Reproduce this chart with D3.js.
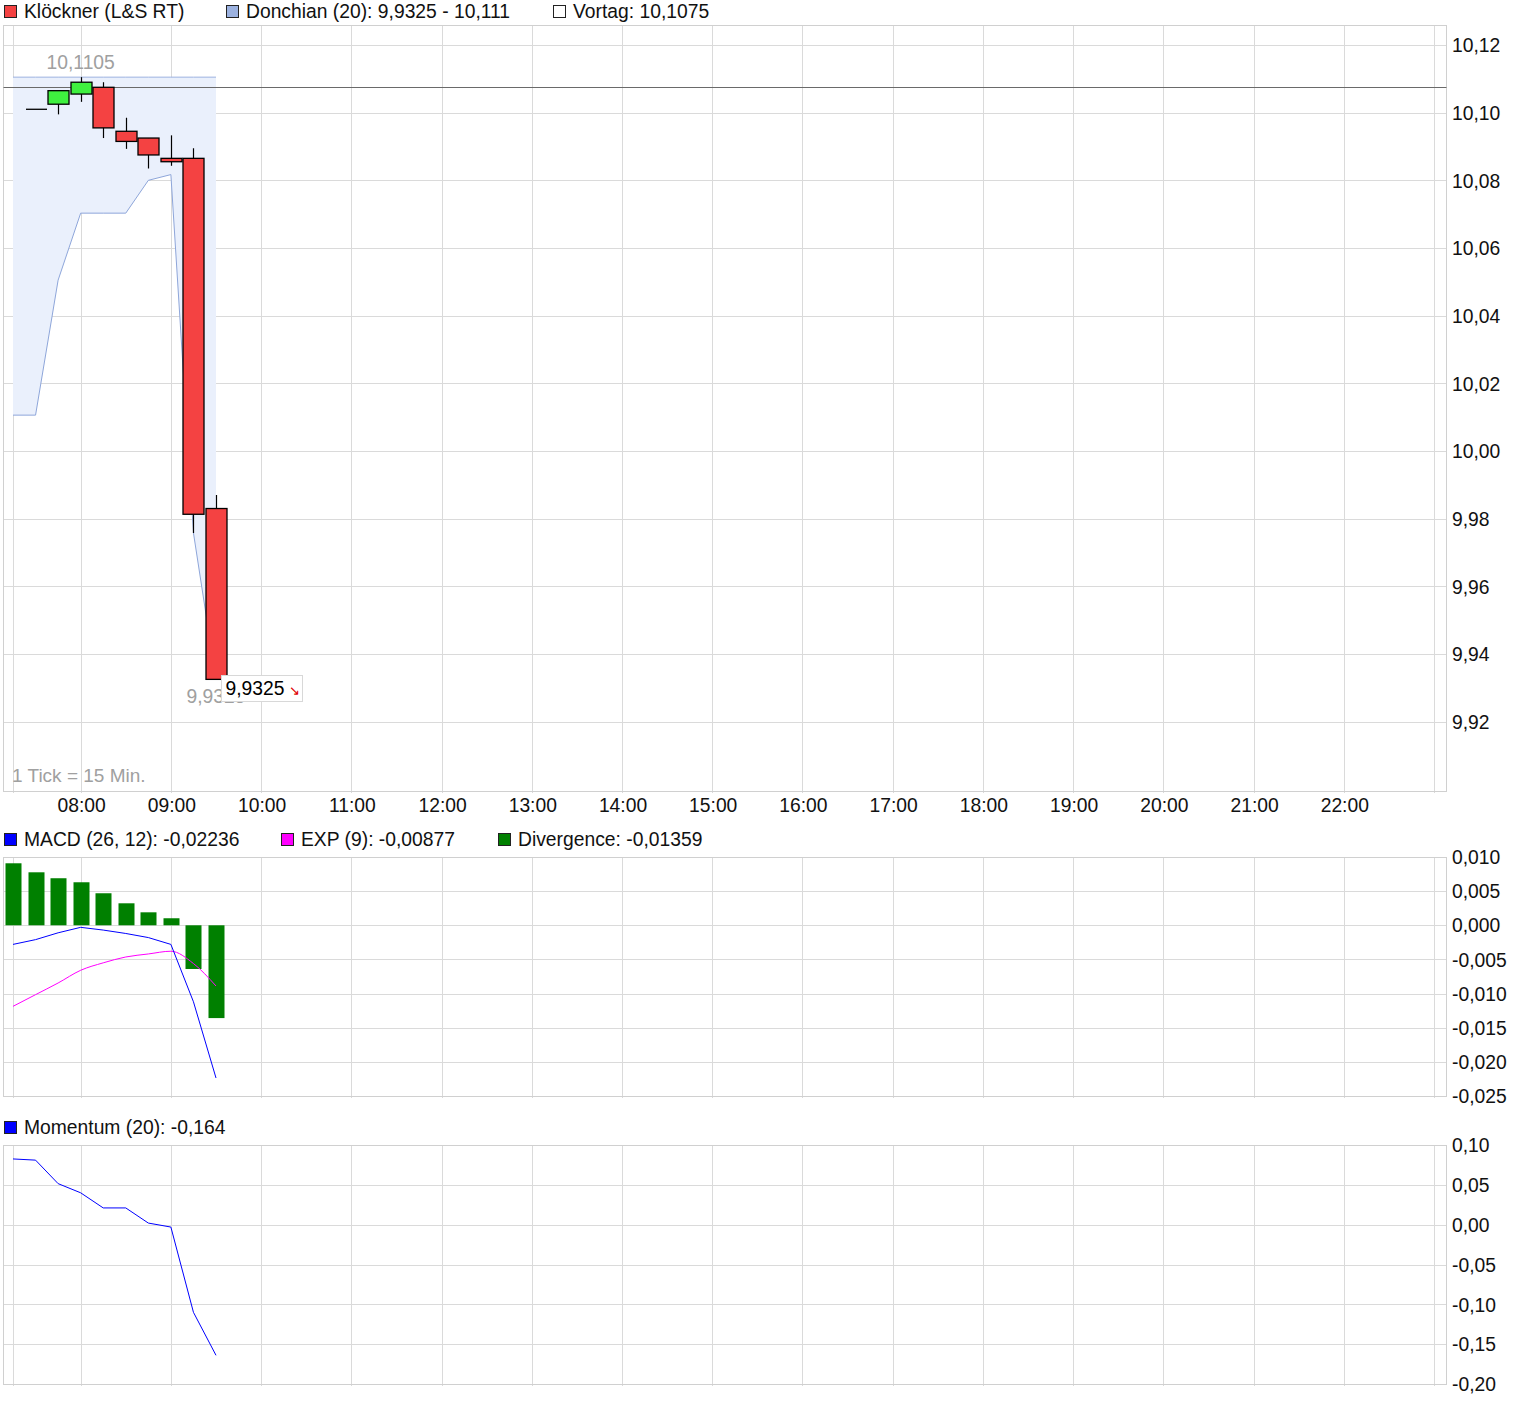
<!DOCTYPE html>
<html><head><meta charset="utf-8">
<script src="https://cdn.jsdelivr.net/npm/d3@7"></script>
<style>
html,body{margin:0;padding:0;background:#fff;}
svg{display:block;font-family:"Liberation Sans",Arial,sans-serif;}
</style></head>
<body>
<svg id="c" width="1520" height="1405"></svg>
<script>
// ---------- DATA ----------
const times = ["07:15","07:30","07:45","08:00","08:15","08:30","08:45","09:00","09:15","09:30"];
const candleTimes = ["07:30","07:45","08:00","08:15","08:30","08:45","09:00","09:15","09:30"];
const open  = [10.101, 10.1025, 10.1055, 10.1075, 10.0945, 10.0925, 10.0865, 10.0865, 9.983];
const high  = [10.101, 10.1065, 10.1105, 10.109, 10.0985, 10.0925, 10.0933, 10.0895, 9.987];
const low   = [10.101, 10.0995, 10.1032, 10.0925, 10.0893, 10.0835, 10.0843, 9.9758, 9.9325];
const close = [10.101, 10.1065, 10.109, 10.0955, 10.0915, 10.0875, 10.0855, 9.9813, 9.9325];
const donchUpper = [10.1105,10.1105,10.1105,10.1105,10.1105,10.1105,10.1105,10.1105,10.1105,10.1105];
const donchLower = [10.0106,10.0106,10.0505,10.0703,10.0703,10.0703,10.08,10.0817,9.9758,9.9325];
const vortag = 10.1075;
const macd = [-0.0028,-0.0021,-0.0011,-0.0003,-0.0007,-0.0012,-0.0018,-0.0028,-0.0112,-0.02236];
const expSig = [-0.01187,-0.01016,-0.00845,-0.00659,-0.0055,-0.00464,-0.0042,-0.0038,-0.0056,-0.00889];
const divergence = [0.00908,0.00776,0.00689,0.0063,0.00469,0.00322,0.0019,0.00103,-0.0064,-0.01359];
const momentum = [0.0825,0.081,0.0515,0.040,0.021,0.021,0.002,-0.003,-0.110,-0.164];
const hourLabels = ["08:00","09:00","10:00","11:00","12:00","13:00","14:00","15:00","16:00","17:00","18:00","19:00","20:00","21:00","22:00"];
const priceTicks = [10.12,10.10,10.08,10.06,10.04,10.02,10.00,9.98,9.96,9.94,9.92];
const macdTicks = [0.010,0.005,0.000,-0.005,-0.010,-0.015,-0.020,-0.025];
const momTicks = [0.10,0.05,0.00,-0.05,-0.10,-0.15,-0.20];
const legendMain = ["Klöckner (L&S RT)","Donchian (20): 9,9325 - 10,111","Vortag: 10,1075"];
const legendMacd = ["MACD (26, 12): -0,02236","EXP (9): -0,00877","Divergence: -0,01359"];
const legendMom = ["Momentum (20): -0,164"];

// ---------- SETUP ----------
const svg = d3.select("#c");
const loc = d3.formatLocale({decimal:",",thousands:".",grouping:[3],currency:["","€"],minus:"-"});
const parseT = s => { const [h,m]=s.split(":").map(Number); return new Date(2024,0,2,h,m); };
const x = d3.scaleTime().domain([parseT("07:15"),parseT("23:00")]).range([13,1434]);
const L = 3.5, R = 1446.5;
const gridC = "#dadada", frameC = "#d0d0d0";
const FS = 19.3;
const gridTimes = [parseT("07:15")].concat(d3.range(8,24).map(h=>new Date(2024,0,2,h,0)));

function panel(top,bottom,yScale,ticks,fmt){
  const g = svg.append("g");
  g.selectAll("line.h").data(ticks).join("line")
    .attr("x1",L).attr("x2",R)
    .attr("y1",d=>Math.round(yScale(d))+0.5).attr("y2",d=>Math.round(yScale(d))+0.5)
    .attr("stroke",gridC);
  g.selectAll("line.v").data(gridTimes).join("line")
    .attr("x1",d=>Math.round(x(d))+0.5).attr("x2",d=>Math.round(x(d))+0.5)
    .attr("y1",top).attr("y2",bottom+2)
    .attr("stroke",gridC);
  g.append("rect").attr("x",L).attr("y",top+0.5).attr("width",R-L).attr("height",bottom-top)
    .attr("fill","none").attr("stroke",frameC);
  const ax = svg.append("g").attr("transform",`translate(${R},0.5)`)
    .call(d3.axisRight(yScale).tickValues(ticks).tickSize(0).tickPadding(5.5).tickFormat(fmt));
  ax.select(".domain").remove();
  ax.selectAll("text").attr("font-size",FS).attr("fill","#111").attr("font-family","'Liberation Sans',Arial,sans-serif");
  return g;
}
function legend(items,colors,xs,yc){
  items.forEach((t,i)=>{
    svg.append("rect").attr("x",xs[i]+0.5).attr("y",yc-5.5).attr("width",12).attr("height",12)
      .attr("fill",colors[i]).attr("stroke","#222").attr("stroke-width",1);
    svg.append("text").attr("x",xs[i]+20).attr("y",yc+7).attr("font-size",FS).attr("fill","#111").text(t);
  });
}

// ---------- MAIN PANEL ----------
const yP = d3.scaleLinear().domain([10.0,10.12]).range([451,45]);
panel(25,791,yP,priceTicks,loc.format(".2f"));

const band = times.map((t,i)=>({t:parseT(t),u:donchUpper[i],l:donchLower[i]}));
svg.append("path").datum(band)
  .attr("d",d3.area().x(d=>x(d.t)).y0(d=>yP(d.l)).y1(d=>yP(d.u)))
  .attr("fill","#eaf0fc");
svg.append("path").datum(band).attr("d",d3.line().x(d=>x(d.t)).y(d=>yP(d.u)))
  .attr("fill","none").attr("stroke","#9cb2e0").attr("stroke-width",1);
svg.append("path").datum(band).attr("d",d3.line().x(d=>x(d.t)).y(d=>yP(d.l)))
  .attr("fill","none").attr("stroke","#8ea6da").attr("stroke-width",1);

svg.append("line").attr("x1",L).attr("x2",R)
  .attr("y1",Math.round(yP(vortag))+0.5).attr("y2",Math.round(yP(vortag))+0.5)
  .attr("stroke","#6a6a6a").attr("stroke-width",1);

const cw = 21;
const candles = candleTimes.map((t,i)=>({t:parseT(t),o:open[i],h:high[i],l:low[i],c:close[i]}));
const cg = svg.append("g");
candles.forEach(d=>{
  const cx = Math.round(x(d.t))+0.5;
  cg.append("line").attr("x1",cx).attr("x2",cx).attr("y1",yP(d.h)).attr("y2",yP(d.l))
    .attr("stroke","#000").attr("stroke-width",1.2);
  const top = yP(Math.max(d.o,d.c)), bot = yP(Math.min(d.o,d.c));
  if (bot-top < 0.8) {
    cg.append("line").attr("x1",cx-cw/2).attr("x2",cx+cw/2).attr("y1",top).attr("y2",top)
      .attr("stroke","#000").attr("stroke-width",1.3);
  } else {
    cg.append("rect").attr("x",cx-cw/2).attr("y",top).attr("width",cw).attr("height",bot-top)
      .attr("fill",d.c>=d.o?"#3ff03f":"#f44242").attr("stroke","#000").attr("stroke-width",1.3);
  }
});

const hiIdx = high.indexOf(d3.max(high));
svg.append("text").attr("x",x(parseT(candleTimes[hiIdx]))).attr("y",yP(d3.max(donchUpper))-8)
  .attr("text-anchor","middle").attr("font-size",FS).attr("fill","#a0a0a0")
  .text(loc.format(".4f")(d3.max(donchUpper)));
const lastT = parseT(times[times.length-1]);
svg.append("text").attr("x",x(lastT)).attr("y",yP(d3.min(donchLower))+24)
  .attr("text-anchor","middle").attr("font-size",FS).attr("fill","#a0a0a0")
  .text(loc.format(".4f")(d3.min(donchLower)));

const lastC = close[close.length-1];
const bx = Math.round(x(lastT))+5.5, by = Math.round(yP(lastC))-3.5;
svg.append("rect").attr("x",bx).attr("y",by).attr("width",81).attr("height",26)
  .attr("fill","#fff").attr("stroke","#d8d8d8");
svg.append("text").attr("x",bx+4).attr("y",by+19).attr("font-size",FS).attr("fill","#000")
  .text(loc.format(".4f")(lastC));
svg.append("text").attr("x",bx+67).attr("y",by+19).attr("font-size",13).attr("fill","#e00000").text("↘");

svg.append("text").attr("x",12).attr("y",782).attr("font-size",19).attr("fill","#a0a0a0").text("1 Tick = 15 Min.");

const xAx = svg.append("g").attr("transform","translate(0.5,791)")
  .call(d3.axisBottom(x).tickValues(hourLabels.map(parseT)).tickSize(0).tickPadding(7.5)
    .tickFormat((d,i)=>hourLabels[i]));
xAx.select(".domain").remove();
xAx.selectAll("text").attr("font-size",FS).attr("fill","#111").attr("font-family","'Liberation Sans',Arial,sans-serif");

legend(legendMain,["#f44242","#9cb2e0","#ffffff"],[4,226,553],11);

// ---------- MACD PANEL ----------
const yM = d3.scaleLinear().domain([-0.025,0.010]).range([1096,857]);
panel(857,1096,yM,macdTicks,loc.format(".3f"));
const bw = 16;
svg.append("g").selectAll("rect").data(times.map((t,i)=>({t:parseT(t),v:divergence[i]}))).join("rect")
  .attr("x",d=>Math.round(x(d.t))-bw/2+0.5).attr("width",bw)
  .attr("y",d=>yM(Math.max(0,d.v))).attr("height",d=>Math.abs(yM(d.v)-yM(0)))
  .attr("fill","#008000");
svg.append("path").datum(times.map((t,i)=>({t:parseT(t),v:expSig[i]})))
  .attr("d",d3.line().x(d=>x(d.t)).y(d=>yM(d.v)).curve(d3.curveMonotoneX))
  .attr("fill","none").attr("stroke","#ff00ff").attr("stroke-width",1);
svg.append("path").datum(times.map((t,i)=>({t:parseT(t),v:macd[i]})))
  .attr("d",d3.line().x(d=>x(d.t)).y(d=>yM(d.v)))
  .attr("fill","none").attr("stroke","#0000ff").attr("stroke-width",1);
legend(legendMacd,["#0000ff","#ff00ff","#008000"],[4,281,498],839);

// ---------- MOMENTUM PANEL ----------
const yO = d3.scaleLinear().domain([-0.20,0.10]).range([1384,1145]);
panel(1145,1384,yO,momTicks,loc.format(".2f"));
svg.append("path").datum(times.map((t,i)=>({t:parseT(t),v:momentum[i]})))
  .attr("d",d3.line().x(d=>x(d.t)).y(d=>yO(d.v)))
  .attr("fill","none").attr("stroke","#0000ff").attr("stroke-width",1);
legend(legendMom,["#0000ff"],[4],1127);
</script>
</body></html>
